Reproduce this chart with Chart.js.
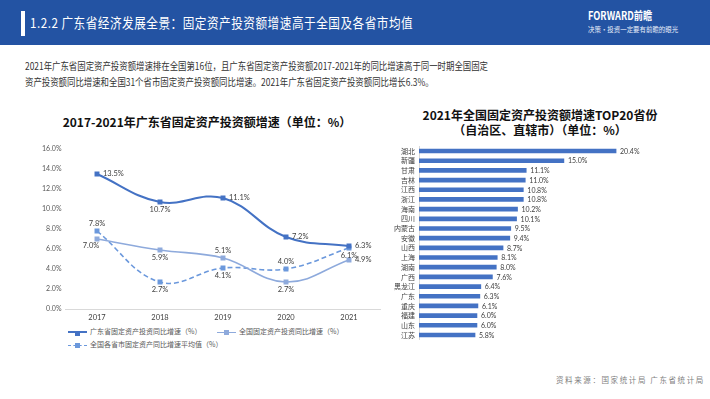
<!DOCTYPE html>
<html>
<head>
<meta charset="utf-8">
<script src="https://cdn.jsdelivr.net/npm/chart.js@4.4.1/dist/chart.umd.min.js"></script>
<style>
  body { margin: 0; width: 710px; height: 399px; background: #fff; position: relative; overflow: hidden;
         font-family: "Noto Sans CJK SC", sans-serif; }
  .abs { position: absolute; white-space: nowrap; }
  #header { left: 0; top: 0; width: 710px; height: 45px; background: #2353a3; }
  #hbar { left: 21px; top: 11px; width: 4px; height: 25px; background: #fff; }
  #htitle { left: 30px; top: 13px; color: #fff; font-size: 13.5px; line-height: 18px; letter-spacing: 0.6px;
            transform: scaleX(0.86); transform-origin: left center; }
  #logo { left: 588px; top: 8px; color: #fff; font-size: 11.5px; font-weight: bold; line-height: 15px;
          transform: scaleX(0.8); transform-origin: left center; }
  #slogan { left: 588px; top: 24px; color: #e8eefa; font-size: 7px; line-height: 10px;
            transform: scaleX(0.92); transform-origin: left center; }
  .para { left: 25px; color: #333; font-size: 10px; line-height: 14px; letter-spacing: 0;
          transform: scaleX(0.84); transform-origin: left center; }
  .ctitle { color: #111; font-size: 12px; font-weight: bold; line-height: 15px; text-align: center; }
  .leg { font-size: 7px; color: #595959; line-height: 10px; font-family: "Noto Sans CJK SC", serif; }
  .leg .ln { display: inline-block; width: 19px; height: 0; vertical-align: middle; position: relative; margin-right: 3px; }
  .leg .mk { position: absolute; left: 7px; top: -2.5px; width: 5px; height: 5px; }
  #src { left: 556px; top: 374px; color: #7f7f7f; font-size: 7.5px; letter-spacing: 1.6px; line-height: 12px; }
  canvas { position: absolute; }
</style>
</head>
<body>
<div id="header" class="abs"></div>
<div id="hbar" class="abs"></div>
<div id="htitle" class="abs">1.2.2 广东省经济发展全景：固定资产投资额增速高于全国及各省市均值</div>
<div id="logo" class="abs">FORWARD前瞻</div>
<div id="slogan" class="abs">决策·投资一定要有前瞻的眼光</div>
<div class="abs para" style="top:59px">2021年广东省固定资产投资额增速排在全国第16位，且广东省固定资产投资额2017-2021年的同比增速高于同一时期全国固定</div>
<div class="abs para" style="top:75px">资产投资额同比增速和全国31个省市固定资产投资额同比增速。2021年广东省固定资产投资额同比增长6.3%。</div>

<div class="abs ctitle" style="left:57px; width:300px; top:114px">2017-2021年广东省固定资产投资额增速（单位：%）</div>
<div class="abs ctitle" style="left:400px; width:280px; top:107px; line-height:15px">2021年全国固定资产投资额增速TOP20省份<br>（自治区、直辖市）（单位：%）</div>

<canvas id="chart1" width="392" height="185" style="left:0; top:140px; width:392px; height:185px"></canvas>
<canvas id="chart2" width="300" height="210" style="left:380px; top:138px; width:300px; height:210px"></canvas>
<div id="legend"></div>

<div id="src" class="abs">资料来源：国家统计局 广东省统计局</div>

<script>
// Line chart data
const years = ['2017', '2018', '2019', '2020', '2021']
const guangdongGrowth = [13.5, 10.7, 11.1, 7.2, 6.3]
const nationalGrowth = [7.0, 5.9, 5.1, 2.7, 4.9]
const provinceAvgGrowth = [7.8, 2.7, 4.1, 4.0, 6.1]
const seriesNames = ['广东省固定资产投资同比增速（%）', '全国固定资产投资同比增速（%）', '全国各省市固定资产同比增速平均值（%）']
const yTicks = [0, 2, 4, 6, 8, 10, 12, 14, 16]

// Bar chart data
const provinces = ['湖北', '新疆', '甘肃', '吉林', '江西', '浙江', '海南', '四川', '内蒙古', '安徽',
                   '山西', '上海', '湖南', '广西', '黑龙江', '广东', '重庆', '福建', '山东', '江苏']
const provinceGrowth = [20.4, 15.0, 11.1, 11.0, 10.8, 10.8, 10.2, 10.1, 9.5, 9.4,
                        8.7, 8.1, 8.0, 7.6, 6.4, 6.3, 6.1, 6.0, 6.0, 5.8]

const numFont = "Lato, 'Noto Sans CJK SC', sans-serif"
const colors = ['#4472c4', '#8eaadc', '#6b98dc']

// draws value labels next to each point, placement given per dataset
const lineLabels = {
    id: 'lineLabels',
    afterDatasetsDraw(chart) {
        const ctx = chart.ctx
        ctx.save()
        ctx.font = `7.5px ${numFont}`
        ctx.fillStyle = '#404040'
        ctx.textBaseline = 'middle'
        chart.data.datasets.forEach((ds, i) => {
            chart.getDatasetMeta(i).data.forEach((pt, j) => {
                const pos = ds.labelPos[j]
                const txt = ds.data[j].toFixed(1) + '%'
                let x = pt.x, y = pt.y
                ctx.textAlign = 'center'
                if (pos === 'right') { ctx.textAlign = 'left'; x += 6 }
                else if (pos === 'below') y += 8
                else if (pos === 'above') y -= 7
                else if (pos === 'leftbelow') { x -= 6; y += 7 }
                ctx.fillText(txt, x, y)
            })
        })
        ctx.restore()
    }
}

const lineDataset = (label, data, color, width, dash, labelPos) => ({
    label, data, labelPos,
    borderColor: color,
    backgroundColor: color,
    borderWidth: width,
    borderDash: dash,
    pointStyle: 'rect',
    pointRadius: 3.5,
    pointBorderWidth: 0,
    tension: 0.4,
    fill: false
})

new Chart(document.getElementById('chart1'), {
    type: 'line',
    data: {
        labels: years,
        datasets: [
            lineDataset(seriesNames[0], guangdongGrowth, colors[0], 2, [], ['right', 'below', 'right', 'right', 'right']),
            lineDataset(seriesNames[1], nationalGrowth, colors[1], 1.6, [], ['leftbelow', 'below', 'above', 'below', 'right']),
            lineDataset(seriesNames[2], provinceAvgGrowth, colors[2], 1.6, [5, 3], ['above', 'below', 'below', 'above', 'below'])
        ]
    },
    options: {
        responsive: false,
        animation: false,
        layout: { padding: { top: 9, right: 11.5, left: 0, bottom: 0 } },
        plugins: { legend: { display: false }, tooltip: { enabled: false } },
        scales: {
            x: {
                offset: true,
                grid: { display: false, drawTicks: false },
                border: { color: '#d9d9d9' },
                ticks: { color: '#404040', font: { family: numFont, size: 7.5 }, padding: 4 },
                afterFit: s => { s.height = 16 }
            },
            y: {
                min: 0, max: 16,
                grid: { display: false, drawTicks: false },
                border: { display: false },
                afterBuildTicks: s => { s.ticks = yTicks.map(v => ({ value: v })) },
                ticks: { color: '#595959', font: { family: numFont, size: 7 }, padding: 4,
                         callback: v => v.toFixed(1) + '%' },
                afterFit: s => { s.width = 65.5 }
            }
        }
    },
    plugins: [lineLabels]
})

const barLabels = {
    id: 'barLabels',
    afterDatasetsDraw(chart) {
        const ctx = chart.ctx
        ctx.save()
        ctx.font = `7px ${numFont}`
        ctx.fillStyle = '#404040'
        ctx.textBaseline = 'middle'
        ctx.textAlign = 'left'
        chart.getDatasetMeta(0).data.forEach((bar, j) => {
            ctx.fillText(provinceGrowth[j].toFixed(1) + '%', bar.x + 4, bar.y + 0.5)
        })
        ctx.restore()
    }
}

new Chart(document.getElementById('chart2'), {
    type: 'bar',
    data: {
        labels: provinces,
        datasets: [{ data: provinceGrowth, backgroundColor: colors[0], barThickness: 4 }]
    },
    options: {
        indexAxis: 'y',
        responsive: false,
        animation: false,
        layout: { padding: { top: 6, bottom: 6, right: 19.5, left: 0 } },
        plugins: { legend: { display: false }, tooltip: { enabled: false } },
        scales: {
            x: { display: false, min: 0, max: 25 },
            y: {
                grid: { display: false, drawTicks: false },
                border: { color: '#d9d9d9' },
                ticks: { color: '#404040', font: { family: "'Noto Sans CJK SC', serif", size: 7 }, padding: 4,
                         autoSkip: false },
                afterFit: s => { s.width = 39 }
            }
        }
    },
    plugins: [barLabels]
})

// legend built from the series names
const legendPos = [[68, 326], [217, 326], [68, 339]]
const legend = document.getElementById('legend')
seriesNames.forEach((name, i) => {
    const item = document.createElement('div')
    item.className = 'abs leg'
    item.style.left = legendPos[i][0] + 'px'
    item.style.top = legendPos[i][1] + 'px'
    const style = i === 2 ? 'dashed' : 'solid'
    item.innerHTML = `<span class="ln" style="border-top:${i === 0 ? 2 : 1.6}px ${style} ${colors[i]}">` +
        `<span class="mk" style="background:${colors[i]}"></span></span>${name}`
    legend.appendChild(item)
})
</script>
</body>
</html>
